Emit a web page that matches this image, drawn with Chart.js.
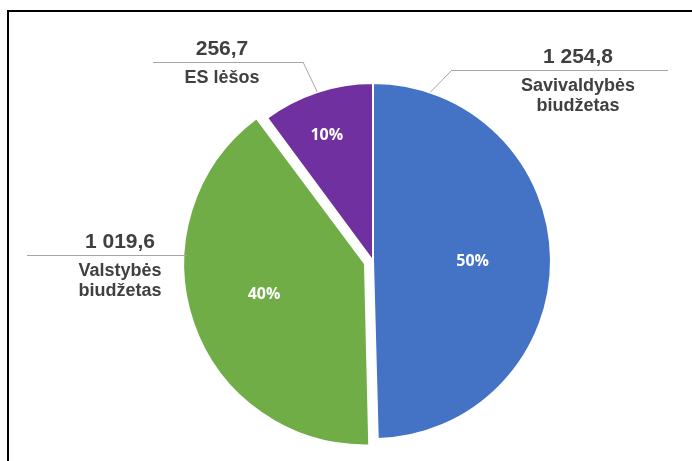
<!DOCTYPE html>
<html>
<head>
<meta charset="utf-8">
<script src="https://cdn.jsdelivr.net/npm/chart.js@4/dist/chart.umd.min.js"></script>
<style>
  html, body { margin: 0; padding: 0; background: #ffffff; overflow: hidden; }
  #wrap { position: relative; width: 692px; height: 461px; }
</style>
</head>
<body>
<div id="wrap"><canvas id="c"></canvas></div>
<script>
// ---- data ----
const categories = ['Savivaldybės biudžetas', 'Valstybės biudžetas', 'ES lėšos'];
const categoryLines = [['Savivaldybės', 'biudžetas'], ['Valstybės', 'biudžetas'], ['ES lėšos']];
const values = [1254.8, 1019.6, 256.7];
const valueLabels = ['1 254,8', '1 019,6', '256,7'];
const colors = ['#4472C4', '#70AD47', '#7030A0'];

// ---- label layout (annotation placement, not data) ----
const labelLayout = [
  { anchorFrac: 0.105, lineY: 70,   x1: 452, x2: 668,  elbowAt: 'x1', textX: 578, pctFrac: 0.5,  pctR: 0.56 },
  { anchorFrac: 0.65,  lineY: null, x1: 27,  x2: null, elbowAt: 'x2', textX: 120, pctFrac: 0.52, pctR: 0.59 },
  { anchorFrac: 0.5,   lineY: 62,   x1: 153, x2: 303,  elbowAt: 'x2', textX: 222, pctFrac: 0.45, pctR: 0.757 }
];

const total = values.reduce((a, b) => a + b, 0);
const percentLabels = values.map(v => Math.round(v / total * 100) + '%');

const framePlugin = {
  id: 'frame',
  beforeDraw(chart) {
    const ctx = chart.ctx;
    ctx.save();
    ctx.strokeStyle = '#000000';
    ctx.lineWidth = 2;
    ctx.strokeRect(8, 11, 900, 700);
    ctx.restore();
  }
};

const labelPlugin = {
  id: 'sliceLabels',
  afterDatasetsDraw(chart) {
    const ctx = chart.ctx;
    const meta = chart.getDatasetMeta(0);
    ctx.save();
    meta.data.forEach((arc, i) => {
      const lay = labelLayout[i];
      const p = arc.getProps(['x', 'y', 'startAngle', 'endAngle', 'outerRadius'], true);
      const off = (arc.options.offset || 0) / 4;
      const mid = (p.startAngle + p.endAngle) / 2;
      const cx = p.x + Math.cos(mid) * off;
      const cy = p.y + Math.sin(mid) * off;
      const span = p.endAngle - p.startAngle;
      const r = p.outerRadius;

      // percent label inside slice
      const pa = p.startAngle + span * lay.pctFrac;
      const px = cx + Math.cos(pa) * r * lay.pctR;
      const py = cy + Math.sin(pa) * r * lay.pctR;
      ctx.fillStyle = '#ffffff';
      ctx.font = 'bold 16px "Open Sans", "Liberation Sans", sans-serif';
      ctx.textAlign = 'center';
      ctx.textBaseline = 'alphabetic';
      ctx.fillText(percentLabels[i], px, py + 6);

      // leader line
      const aa = p.startAngle + span * lay.anchorFrac;
      const ax = cx + Math.cos(aa) * r;
      const ay = cy + Math.sin(aa) * r;
      const lineY = lay.lineY === null ? ay : lay.lineY;
      const x1 = lay.x1;
      const x2 = lay.x2 === null ? ax : lay.x2;
      const ex = lay.elbowAt === 'x1' ? x1 : x2;
      ctx.strokeStyle = '#A6A6A6';
      ctx.lineWidth = 1;
      ctx.beginPath();
      ctx.moveTo(ax, ay);
      ctx.lineTo(ex, lineY);
      ctx.stroke();
      ctx.beginPath();
      ctx.moveTo(x1, Math.round(lineY) + 0.5);
      ctx.lineTo(x2, Math.round(lineY) + 0.5);
      ctx.stroke();

      // value text
      ctx.fillStyle = '#404040';
      ctx.textAlign = 'center';
      ctx.font = 'bold 21px "Liberation Sans", Arial, sans-serif';
      ctx.fillText(valueLabels[i], lay.textX, lineY - 7.5);
      // category text
      ctx.font = 'bold 18px "Liberation Sans", Arial, sans-serif';
      categoryLines[i].forEach((t, k) => {
        ctx.fillText(t, lay.textX, lineY + 21 + k * 20);
      });
    });
    ctx.restore();
  }
};

new Chart(document.getElementById('c'), {
  type: 'pie',
  data: {
    labels: categories,
    datasets: [{
      data: values,
      backgroundColor: colors,
      borderColor: '#ffffff',
      borderWidth: 2,
      offset: [0, 34, 0]
    }]
  },
  options: {
    responsive: true,
    maintainAspectRatio: false,
    animation: false,
    radius: 178,
    layout: { padding: { left: 54, right: 0, top: 61, bottom: 0 } },
    plugins: {
      legend: { display: false },
      tooltip: { enabled: false }
    }
  },
  plugins: [framePlugin, labelPlugin]
});
</script>
</body>
</html>
